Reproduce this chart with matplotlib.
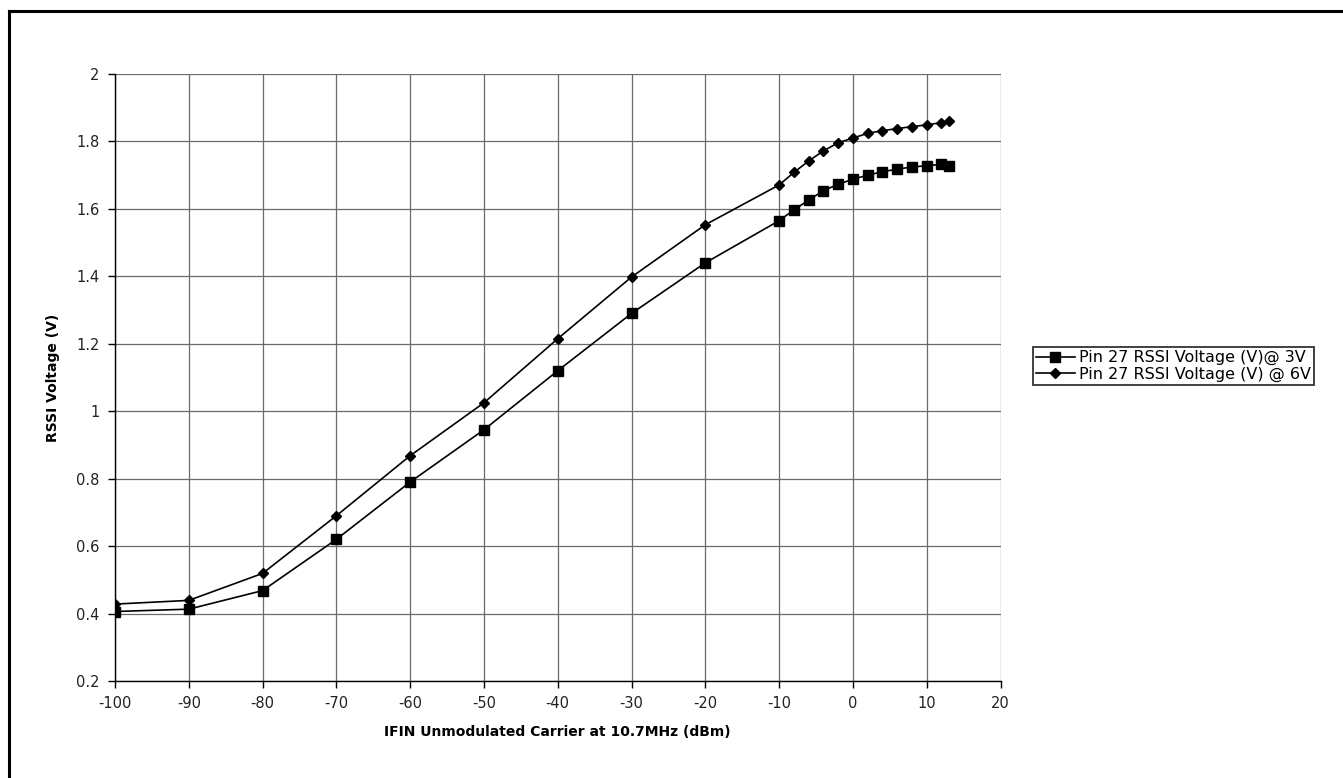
import matplotlib
matplotlib.use("Agg")
import matplotlib.pyplot as plt
from matplotlib.lines import Line2D

# input level (dBm)
x_dbm = [-100, -90, -80, -70, -60, -50, -40, -30, -20, -10,
         -8, -6, -4, -2, 0, 2, 4, 6, 8, 10, 12, 13]

# RSSI voltage at 3V supply
rssi_3v = [0.406, 0.413, 0.468, 0.620, 0.790, 0.945, 1.120, 1.290, 1.440, 1.565,
           1.597, 1.626, 1.654, 1.673, 1.688, 1.700, 1.710, 1.718, 1.724, 1.728,
           1.732, 1.728]

# RSSI voltage at 6V supply
rssi_6v = [0.428, 0.439, 0.519, 0.690, 0.868, 1.025, 1.215, 1.398, 1.553, 1.671,
           1.708, 1.742, 1.772, 1.796, 1.810, 1.824, 1.832, 1.838, 1.844, 1.849,
           1.856, 1.861]

x_ticks = list(range(-100, 21, 10))
y_ticks = [0.2, 0.4, 0.6, 0.8, 1.0, 1.2, 1.4, 1.6, 1.8, 2.0]
y_tick_labels = ["0.2", "0.4", "0.6", "0.8", "1", "1.2", "1.4", "1.6", "1.8", "2"]

labels = ["Pin 27 RSSI Voltage (V)@ 3V", "Pin 27 RSSI Voltage (V) @ 6V"]

plt.rcParams["font.family"] = ["DejaVu Sans"]

fig = plt.figure(figsize=(13.43, 7.78), dpi=100)
ax = fig.add_axes([0.0856, 0.1247, 0.745 - 0.0856, 0.9049 - 0.1247])

ax.plot(x_dbm, rssi_3v, color="black", lw=1.2, marker="s", ms=7, label=labels[0])
ax.plot(x_dbm, rssi_6v, color="black", lw=1.2, marker="D", ms=5.5, label=labels[1])

ax.set_xlim(-100, 20)
ax.set_ylim(0.2, 2.0)
ax.set_xticks(x_ticks)
ax.set_xticklabels([str(v) for v in x_ticks])
ax.set_yticks(y_ticks)
ax.set_yticklabels(y_tick_labels)
ax.tick_params(direction="out", length=5, width=1, labelsize=10.5, colors="black",
               labelcolor="#222222", pad=6)
ax.grid(True, color="#6a6a6a", lw=0.9)
ax.set_axisbelow(True)
for side in ["top", "right"]:
    ax.spines[side].set_visible(False)
for side in ["left", "bottom"]:
    ax.spines[side].set_linewidth(1.0)

ax.set_xlabel("IFIN Unmodulated Carrier at 10.7MHz (dBm)", fontsize=10, fontweight="bold", labelpad=10)
ax.set_ylabel("RSSI Voltage (V)", fontsize=10, fontweight="bold", labelpad=12)

leg = fig.legend(loc="upper left", bbox_to_anchor=(1033 / 1343, 1 - 347 / 778),
                 frameon=True, fancybox=False, edgecolor="black", fontsize=11.5,
                 handlelength=2.4, handletextpad=0.25, borderpad=0.2, labelspacing=0.1,
                 borderaxespad=0)
leg.get_frame().set_linewidth(1.3)

# outer chart border (top and left edges visible)
fig.add_artist(Line2D([9 / 1343, 1.0], [1 - 11 / 778, 1 - 11 / 778],
                      transform=fig.transFigure, color="black", lw=2.2))
fig.add_artist(Line2D([9 / 1343, 9 / 1343], [0.0, 1 - 11 / 778],
                      transform=fig.transFigure, color="black", lw=2.2))

fig.savefig("out.png", dpi=100)
